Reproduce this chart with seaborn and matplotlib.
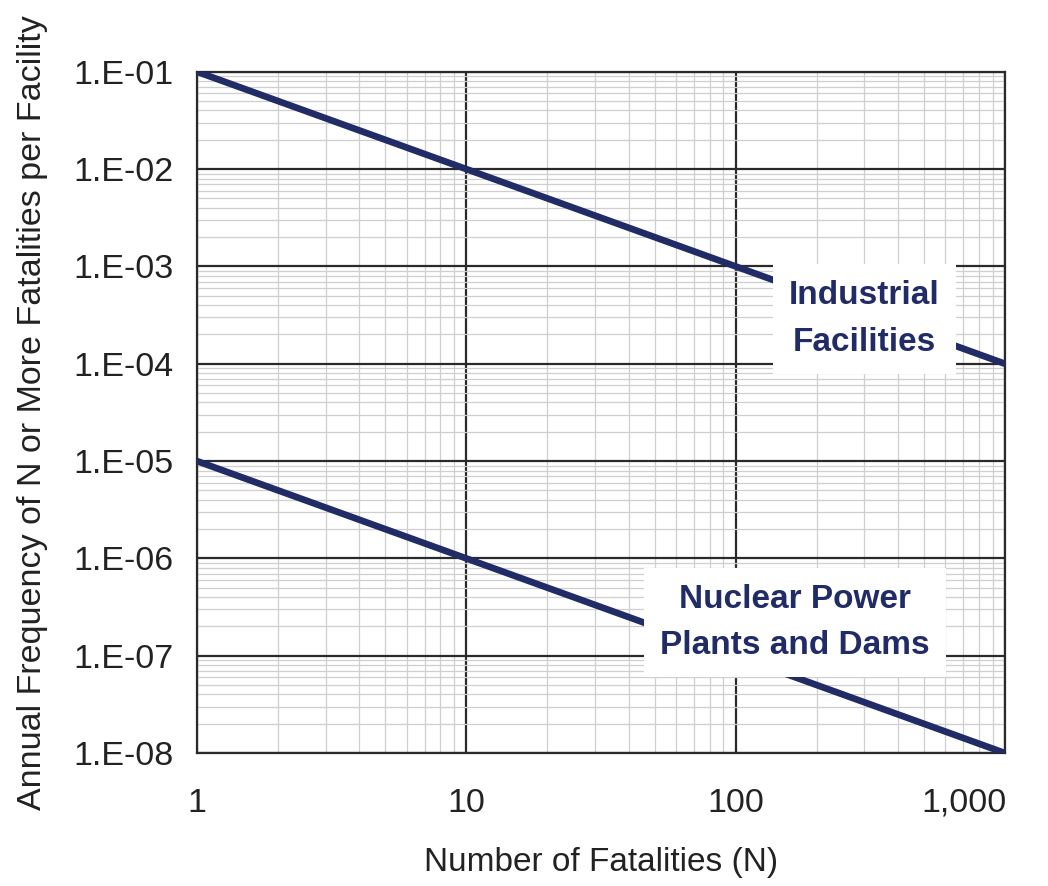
import numpy as np
import pandas as pd
import matplotlib
matplotlib.use("Agg")
import matplotlib.pyplot as plt
import matplotlib.transforms as mtransforms
import seaborn as sns
from matplotlib.ticker import LogLocator, FixedLocator, NullFormatter

# Data
fatalities = [1, 10, 100, 1000]
industrial = [1e-1, 1e-2, 1e-3, 1e-4]
nuclear = [1e-5, 1e-6, 1e-7, 1e-8]
series_names = ["Industrial\nFacilities", "Nuclear Power\nPlants and Dams"]
x_ticks = [1, 10, 100, 1000]
x_ticklabels = ["1", "10", "100", "1,000"]
y_ticks = [1e-8, 1e-7, 1e-6, 1e-5, 1e-4, 1e-3, 1e-2, 1e-1]
y_ticklabels = ["1.E-08", "1.E-07", "1.E-06", "1.E-05", "1.E-04", "1.E-03", "1.E-02", "1.E-01"]

sns.set_style("white")
plt.rcParams['font.family'] = ['Liberation Sans Narrow', 'Liberation Sans', 'DejaVu Sans']

df = pd.DataFrame({
    "N": fatalities * 2,
    "freq": industrial + nuclear,
    "group": [series_names[0]] * 4 + [series_names[1]] * 4,
})

navy = "#212c66"
fig = plt.figure(figsize=(10.48, 8.86), dpi=100)
ax = fig.add_axes([0.188, 0.150, 0.771, 0.769])

sns.lineplot(data=df, x="N", y="freq", hue="group", palette=[navy, navy],
             linewidth=4.8, legend=False, ax=ax, zorder=3)
ax.set_xscale("log")
ax.set_yscale("log")
ax.set_xlim(1, 1000)
ax.set_ylim(1e-8, 1e-1)

ax.xaxis.set_major_locator(FixedLocator(x_ticks))
ax.set_xticklabels(x_ticklabels)
ax.yaxis.set_major_locator(FixedLocator(y_ticks))
ax.set_yticklabels(y_ticklabels)
ax.xaxis.set_minor_locator(LogLocator(base=10, subs=np.arange(2, 10), numticks=20))
ax.yaxis.set_minor_locator(LogLocator(base=10, subs=np.arange(2, 10), numticks=20))
ax.xaxis.set_minor_formatter(NullFormatter())
ax.yaxis.set_minor_formatter(NullFormatter())

ax.grid(True, which="major", color="#2a2a2a", linewidth=1.6, zorder=1)
ax.grid(True, which="minor", color="#cfcfcf", linewidth=0.9, zorder=0)
ax.set_axisbelow(True)

ax.tick_params(axis="both", which="major", direction="out", length=9, width=1.5,
               color="#222222", labelsize=24.5, labelcolor="#222222", pad=8)
ax.tick_params(axis="both", which="minor", length=0)
ax.tick_params(axis="x", pad=16)
xl = ax.get_xticklabels()
xl[-1].set_horizontalalignment("right")
offset = mtransforms.ScaledTranslation(0.02, 0, fig.dpi_scale_trans)
xl[-1].set_transform(xl[-1].get_transform() + offset)

for s in ax.spines.values():
    s.set_color("#2a2a2a")
    s.set_linewidth(1.6)

ax.set_xlabel("Number of Fatalities (N)", fontsize=24, color="#222222", labelpad=20)
ax.set_ylabel("Annual Frequency of N or More Fatalities per Facility", fontsize=24.5,
              color="#222222", labelpad=18)

box = dict(boxstyle="square,pad=0.48", facecolor="white", edgecolor="none")
ax.text(300, 2.9e-4, series_names[0], ha="center", va="center", fontsize=24,
        fontweight="bold", color=navy, bbox=box, zorder=5, linespacing=1.65)
ax.text(166, 2.2e-7, series_names[1], ha="center", va="center", fontsize=24,
        fontweight="bold", color=navy, bbox=box, zorder=5, linespacing=1.65)

fig.savefig("out.png", dpi=100)
